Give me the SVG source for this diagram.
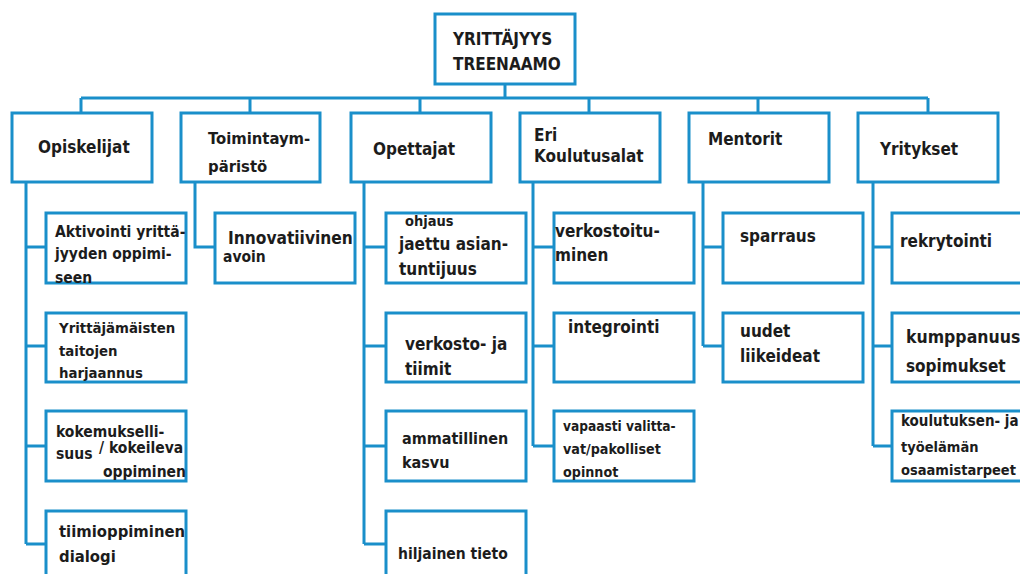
<svg xmlns="http://www.w3.org/2000/svg" width="1020" height="574" viewBox="0 0 1020 574">
<style>
rect.b{fill:#fff;stroke:#1a8fca;stroke-width:3}
#connectors path{fill:none;stroke:#1a8fca;stroke-width:3}
text{font-family:"DejaVu Sans Condensed","DejaVu Sans",sans-serif;font-stretch:condensed;font-weight:bold;fill:#1c1c1c}
.h{font-size:17px}
.c{font-size:15.5px}
.s{font-size:14.5px}
</style>
<rect width="1020" height="574" fill="#fff"/>
<g id="connectors">
<path d="M505 84V98M81 98H928M81 98V113M250 98V113M420 98V113M589 98V113M758 98V113M928 98V113"/>
<path d="M26 182V544M26 247H46M26 346H46M26 446H46M26 544H46"/>
<path d="M195 182V247H215"/>
<path d="M364 182V544M364 247H386M364 346H386M364 446H386M364 544H386"/>
<path d="M533 182V446M533 247H554M533 346H554M533 446H554"/>
<path d="M703 182V346M703 247H723M703 346H723"/>
<path d="M873 182V446M873 247H892M873 346H892M873 446H892"/>
</g>
<g id="root"><rect class="b" x="435" y="14" width="140" height="70"/><text class="h" x="453" y="45">YRITTÄJYYS</text><text class="h" x="453" y="70">TREENAAMO</text></g>
<g id="opiskelijat"><rect class="b" x="12" y="113" width="140" height="69"/><text class="h" x="38" y="153">Opiskelijat</text></g>
<g id="toimintaymparisto"><rect class="b" x="181" y="113" width="139" height="69"/><text x="208" y="144" font-size="16.5">Toimintaym-</text><text x="208" y="172" font-size="16.5">päristö</text></g>
<g id="opettajat"><rect class="b" x="351" y="113" width="140" height="69"/><text class="h" x="373" y="155">Opettajat</text></g>
<g id="eri-koulutusalat"><rect class="b" x="520" y="113" width="140" height="69"/><text class="h" x="534" y="141">Eri</text><text class="h" x="534" y="162">Koulutusalat</text></g>
<g id="mentorit"><rect class="b" x="689" y="113" width="140" height="69"/><text class="h" x="708" y="145">Mentorit</text></g>
<g id="yritykset"><rect class="b" x="858" y="113" width="140" height="69"/><text class="h" x="880" y="155">Yritykset</text></g>

<g id="aktivointi"><rect class="b" x="46" y="213" width="140" height="70"/><text class="c" x="55" y="237">Aktivointi yrittä-</text><text class="c" x="55" y="259">jyyden oppimi-</text><text class="c" x="55" y="283">seen</text></g>
<g id="yrittajamaisten"><rect class="b" x="46" y="313" width="140" height="69"/><text x="59" y="333" font-size="14.8">Yrittäjämäisten</text><text x="59" y="356" font-size="14.8">taitojen</text><text x="59" y="378" font-size="14.8">harjaannus</text></g>
<g id="kokemuksellisuus"><rect class="b" x="46" y="411" width="140" height="70"/><text class="c" x="56" y="437">kokemukselli-</text><text class="c" x="56" y="459">suus</text><text class="c" x="99" y="453">/ kokeileva</text><text class="c" x="103" y="477">oppiminen</text></g>
<g id="tiimioppiminen"><rect class="b" x="46" y="511" width="140" height="80"/><text x="59" y="537" font-size="16.5">tiimioppiminen</text><text x="59" y="562" font-size="16.5">dialogi</text></g>

<g id="innovatiivinen"><rect class="b" x="215" y="213" width="140" height="70"/><text x="228" y="244" font-size="17.2">Innovatiivinen</text><text class="c" x="223" y="262">avoin</text></g>

<g id="ohjaus"><rect class="b" x="386" y="213" width="140" height="70"/><text class="s" x="405" y="226">ohjaus</text><text class="h" x="399" y="250">jaettu asian-</text><text class="h" x="399" y="275">tuntijuus</text></g>
<g id="verkosto"><rect class="b" x="386" y="313" width="140" height="69"/><text class="h" x="405" y="350">verkosto- ja</text><text class="h" x="405" y="375">tiimit</text></g>
<g id="ammatillinen"><rect class="b" x="386" y="411" width="140" height="70"/><text x="402" y="444" font-size="16">ammatillinen</text><text x="402" y="468" font-size="16">kasvu</text></g>
<g id="hiljainen"><rect class="b" x="386" y="511" width="140" height="80"/><text class="c" x="398" y="559">hiljainen tieto</text></g>

<g id="verkostoituminen"><rect class="b" x="554" y="213" width="140" height="70"/><text class="h" x="555" y="237">verkostoitu-</text><text class="h" x="555" y="261">minen</text></g>
<g id="integrointi"><rect class="b" x="554" y="313" width="140" height="69"/><text class="h" x="568" y="333">integrointi</text></g>
<g id="vapaasti"><rect class="b" x="554" y="411" width="140" height="70"/><text x="563" y="431" font-size="13.6">vapaasti valitta-</text><text x="563" y="454" font-size="14.2">vat/pakolliset</text><text x="563" y="477" font-size="14.2">opinnot</text></g>

<g id="sparraus"><rect class="b" x="723" y="213" width="140" height="70"/><text class="h" x="740" y="242">sparraus</text></g>
<g id="liikeideat"><rect class="b" x="723" y="313" width="140" height="69"/><text class="h" x="740" y="337">uudet</text><text class="h" x="740" y="362">liikeideat</text></g>

<g id="rekrytointi"><rect class="b" x="892" y="213" width="140" height="70"/><text class="h" x="900" y="247">rekrytointi</text></g>
<g id="kumppanuus"><rect class="b" x="892" y="313" width="140" height="69"/><text x="906" y="343" font-size="17.5">kumppanuus</text><text class="h" x="906" y="372">sopimukset</text></g>
<g id="osaamistarpeet"><rect class="b" x="892" y="411" width="140" height="70"/><text x="901" y="426" font-size="15">koulutuksen- ja</text><text class="s" x="901" y="452">työelämän</text><text class="s" x="901" y="475">osaamistarpeet</text></g>
</svg>
